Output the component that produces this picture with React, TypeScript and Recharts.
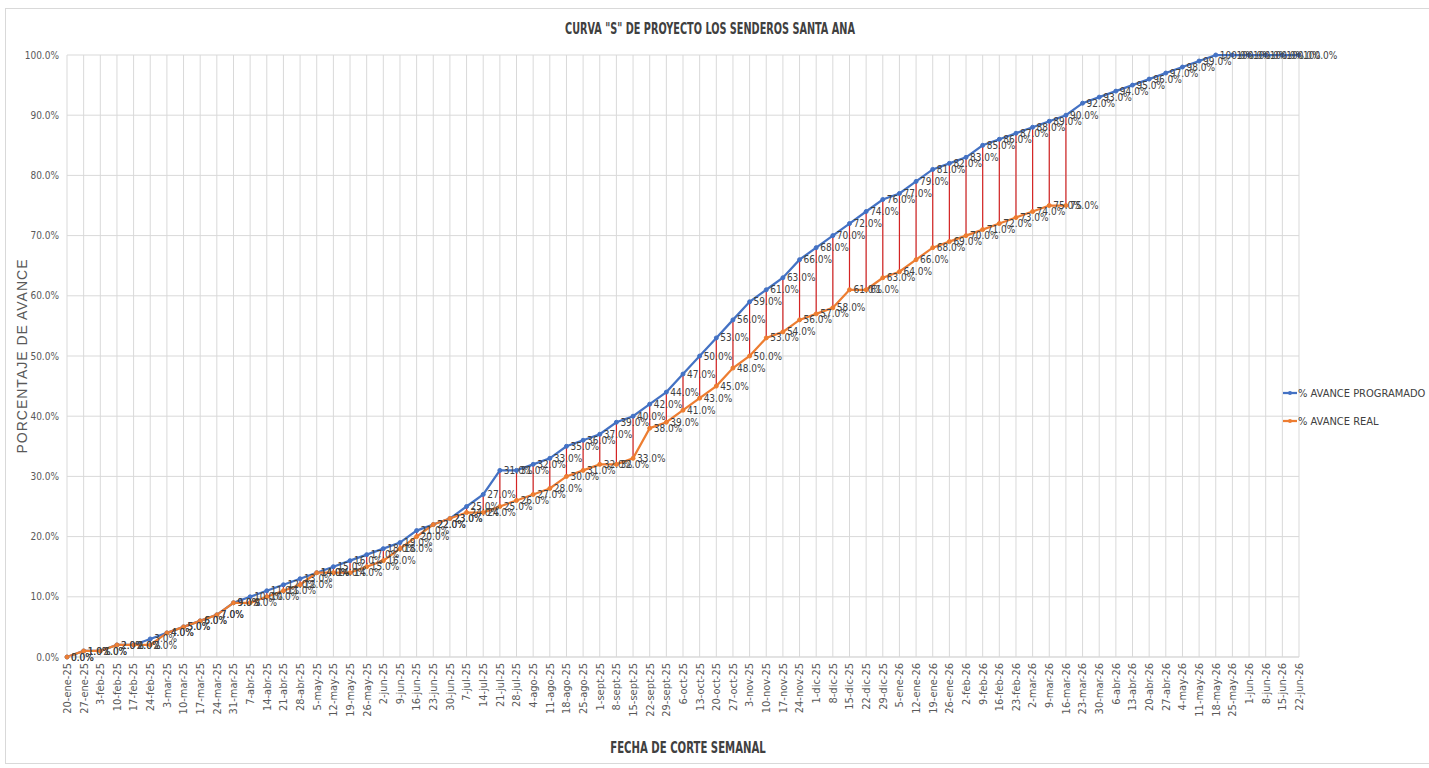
import React from 'react';
import { LineChart, Line, XAxis, YAxis, CartesianGrid, LabelList, ErrorBar } from 'recharts';

const categories = [
  '20-ene-25', '27-ene-25', '3-feb-25', '10-feb-25', '17-feb-25', '24-feb-25', '3-mar-25', '10-mar-25', '17-mar-25', '24-mar-25',
  '31-mar-25', '7-abr-25', '14-abr-25', '21-abr-25', '28-abr-25', '5-may-25', '12-may-25', '19-may-25', '26-may-25', '2-jun-25',
  '9-jun-25', '16-jun-25', '23-jun-25', '30-jun-25', '7-jul-25', '14-jul-25', '21-jul-25', '28-jul-25', '4-ago-25', '11-ago-25',
  '18-ago-25', '25-ago-25', '1-sept-25', '8-sept-25', '15-sept-25', '22-sept-25', '29-sept-25', '6-oct-25', '13-oct-25', '20-oct-25',
  '27-oct-25', '3-nov-25', '10-nov-25', '17-nov-25', '24-nov-25', '1-dic-25', '8-dic-25', '15-dic-25', '22-dic-25', '29-dic-25',
  '5-ene-26', '12-ene-26', '19-ene-26', '26-ene-26', '2-feb-26', '9-feb-26', '16-feb-26', '23-feb-26', '2-mar-26', '9-mar-26',
  '16-mar-26', '23-mar-26', '30-mar-26', '6-abr-26', '13-abr-26', '20-abr-26', '27-abr-26', '4-may-26', '11-may-26', '18-may-26',
  '25-may-26', '1-jun-26', '8-jun-26', '15-jun-26', '22-jun-26',
];

const programado = [
  0, 1, 1, 2, 2, 3, 4, 5, 6, 7,
  9, 10, 11, 12, 13, 14, 15, 16, 17, 18,
  19, 21, 22, 23, 25, 27, 31, 31, 32, 33,
  35, 36, 37, 39, 40, 42, 44, 47, 50, 53,
  56, 59, 61, 63, 66, 68, 70, 72, 74, 76,
  77, 79, 81, 82, 83, 85, 86, 87, 88, 89,
  90, 92, 93, 94, 95, 96, 97, 98, 99, 100,
  100, 100, 100, 100, 100,
];

const real = [
  0, 1, 1, 2, 2, 2, 4, 5, 6, 7,
  9, 9, 10, 11, 12, 14, 14, 14, 15, 16,
  18, 20, 22, 23, 24, 24, 25, 26, 27, 28,
  30, 31, 32, 32, 33, 38, 39, 41, 43, 45,
  48, 50, 53, 54, 56, 57, 58, 61, 61, 63,
  64, 66, 68, 69, 70, 71, 72, 73, 74, 75,
  75,
];

const yTicks = [0, 10, 20, 30, 40, 50, 60, 70, 80, 90, 100];

const seriesNames = ['% AVANCE PROGRAMADO', '% AVANCE REAL'];
const titleText = 'CURVA "S" DE PROYECTO LOS SENDEROS SANTA ANA';
const xTitle = 'FECHA DE CORTE SEMANAL';
const yTitle = 'PORCENTAJE DE AVANCE';

const data = categories.map((c, i) => ({
  cat: c,
  prog: programado[i],
  real: i < real.length ? real[i] : null,
  gap: i < real.length ? [programado[i] - real[i], 0] : [0, 0],
}));

const NARROW = "'Liberation Sans Narrow', 'Arial Narrow', 'DejaVu Sans Condensed', sans-serif";
const BLUE = '#4472C4';
const ORANGE = '#ED7D31';
const GRID = '#d9d9d9';

const fmt = (v: any) => (v === null || v === undefined ? '' : `${Number(v).toFixed(1)}%`);

const XTick = (props: any) => {
  const { x, y, payload } = props;
  return (
    <text
      transform={`translate(${x}, ${y - 2}) rotate(-90)`}
      textAnchor="end"
      dy="0.35em"
      fontSize={11}
      fontFamily={NARROW}
      fill="#595959"
    >
      {payload.value}
    </text>
  );
};

export default function App() {
  return (
    <div style={{ position: 'absolute', left: 0, top: 0, width: 1429, height: 768, background: '#fff', overflow: 'hidden' }}>
      <div style={{ position: 'absolute', left: 5, top: 8, width: 1460, height: 756, border: '1px solid #d9d9d9', boxSizing: 'border-box' }} />
      <div style={{ position: 'absolute', left: 410, top: 20, width: 600, textAlign: 'center', fontFamily: NARROW, fontWeight: 'bold', fontSize: 15, color: '#404040', transform: 'scaleX(0.72)', transformOrigin: '300px 50%', whiteSpace: 'nowrap' }}>
        {titleText}
      </div>
      <div style={{ position: 'absolute', left: 0, top: 0 }}>
        <LineChart width={1429} height={768} data={data} margin={{ top: 55, right: 130, bottom: 41, left: 17 }}>
          <CartesianGrid stroke={GRID} vertical={true} horizontal={true} />
          <XAxis
            dataKey="cat"
            scale="point"
            interval={0}
            height={70}
            padding={{ left: 0, right: 0 }}
            axisLine={{ stroke: GRID }}
            tickLine={false}
            tick={<XTick />}
          />
          <YAxis
            width={50}
            domain={[0, 100]}
            ticks={yTicks}
            axisLine={false}
            tickLine={false}
            tickFormatter={(v: number) => `${v.toFixed(1)}%`}
            tick={{ fontSize: 10, fontFamily: NARROW, fill: '#595959' }}
          />
          <Line
            dataKey="prog"
            name={seriesNames[0]}
            stroke={BLUE}
            strokeWidth={2.25}
            dot={{ r: 2, fill: BLUE, stroke: BLUE, strokeWidth: 1 }}
            isAnimationActive={false}
          >
            <ErrorBar dataKey="gap" width={0} stroke="#D42424" strokeWidth={1.2} direction="y" />
            <LabelList dataKey="prog" position="right" offset={4} formatter={fmt} style={{ fontSize: 10, fontFamily: NARROW, fill: '#404040' }} />
          </Line>
          <Line
            dataKey="real"
            name={seriesNames[1]}
            stroke={ORANGE}
            strokeWidth={2.25}
            dot={{ r: 2, fill: ORANGE, stroke: ORANGE, strokeWidth: 1 }}
            connectNulls={false}
            isAnimationActive={false}
          >
            <LabelList dataKey="real" position="right" offset={4} formatter={fmt} style={{ fontSize: 10, fontFamily: NARROW, fill: '#404040' }} />
          </Line>
        </LineChart>
      </div>
      <div style={{ position: 'absolute', left: 22, top: 357, width: 0, height: 0 }}>
        <div style={{ position: 'absolute', left: -150, top: -9, width: 300, textAlign: 'center', transform: 'rotate(-90deg)', fontFamily: "'Liberation Sans', Arial, sans-serif", fontSize: 14, color: '#595959', whiteSpace: 'nowrap', letterSpacing: 1 }}>
          {yTitle}
        </div>
      </div>
      <div style={{ position: 'absolute', left: 488, top: 739, width: 400, textAlign: 'center', fontFamily: NARROW, fontWeight: 'bold', fontSize: 15, color: '#404040', transform: 'scaleX(0.75)', transformOrigin: '200px 50%', whiteSpace: 'nowrap' }}>
        {xTitle}
      </div>
      {seriesNames.map((n, i) => (
        <div key={n} style={{ position: 'absolute', left: 1283, top: 386 + i * 28, height: 14, display: 'flex', alignItems: 'center', whiteSpace: 'nowrap' }}>
          <svg width={14} height={14} style={{ flex: 'none' }}>
            <line x1={0} y1={7} x2={14} y2={7} stroke={i === 0 ? BLUE : ORANGE} strokeWidth={2.25} />
            <circle cx={7} cy={7} r={2} fill={i === 0 ? BLUE : ORANGE} />
          </svg>
          <span style={{ fontFamily: NARROW, fontSize: 11, color: '#404040', marginLeft: 1 }}>{n}</span>
        </div>
      ))}
    </div>
  );
}
